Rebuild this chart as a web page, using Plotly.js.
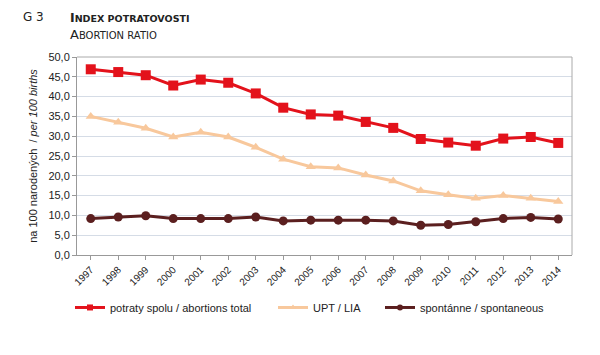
<!DOCTYPE html>
<html><head><meta charset="utf-8">
<script src="https://cdn.plot.ly/plotly-3.0.1.min.js"></script>
<style>html,body{margin:0;padding:0;background:#fff}#c{width:600px;height:355px}</style>
</head><body><div id="c"></div>
<script>
const years = ['1997','1998','1999','2000','2001','2002','2003','2004','2005','2006','2007','2008','2009','2010','2011','2012','2013','2014'];
const total = [46.9,46.2,45.4,42.8,44.3,43.5,40.8,37.2,35.5,35.2,33.6,32.1,29.3,28.4,27.6,29.4,29.8,28.3];
const upt = [35.0,33.5,32.0,29.8,31.0,29.8,27.2,24.2,22.3,22.0,20.2,18.7,16.2,15.2,14.3,15.0,14.3,13.5];
const spont = [9.2,9.6,9.9,9.2,9.2,9.2,9.6,8.6,8.8,8.8,8.8,8.6,7.5,7.7,8.4,9.2,9.5,9.1];
const names = ['potraty spolu / abortions total','UPT / LIA','spontánne / spontaneous'];

const colors = ['#e3121b','#f8c89c','#5b1f1f'];
const symbols = ['square','triangle-up','circle'];
const sizes = [10,9,9];
const series = [total, upt, spont];
const legIds = ['legend','legend2','legend3'];
const legFont = {family:'Liberation Sans, Arial, sans-serif', size:11, color:'#222'};
const traces = [];
series.forEach((s,i)=>{
  traces.push({x:years, y:s, name:names[i], type:'scatter', mode:'lines+markers', showlegend:false,
    line:{color:colors[i], width:3}, marker:{symbol:symbols[i], size:sizes[i], color:colors[i]}});
});
series.forEach((s,i)=>{
  traces.push({x:[null], y:[null], name:names[i], type:'scatter', mode:'lines+markers', showlegend:true,
    line:{color:colors[i], width:3}, marker:{symbol:symbols[i], size:6, color:colors[i]}, legend:legIds[i]});
});
function leg(xpx){
  return {orientation:'h', x:(xpx-77)/495, xanchor:'left', y:-0.265, yanchor:'middle',
    font:legFont, itemwidth:30, bgcolor:'rgba(0,0,0,0)', tracegroupgap:0};
}
const layout = {
  width:600, height:355,
  margin:{l:77, r:28, t:57, b:100},
  paper_bgcolor:'#fff', plot_bgcolor:'#fff',
  separators:', ',
  showlegend:true,
  legend:leg(70), legend2:leg(273), legend3:leg(380),
  xaxis:{type:'category', range:[-0.5,17.5], showgrid:false, showline:true, linecolor:'#999', linewidth:1,
    ticks:'outside', ticklen:4, tickcolor:'#999', tickangle:-45,
    tickfont:{family:'Liberation Sans, Arial, sans-serif', size:10, color:'#222'}, mirror:false, zeroline:false},
  yaxis:{range:[0,50], dtick:5, tickformat:'.1f', showgrid:true, gridcolor:'#d5dce6', gridwidth:1,
    showline:true, linecolor:'#999', linewidth:1, ticks:'outside', ticklen:4, tickcolor:'#999', zeroline:false,
    tickfont:{family:'Liberation Sans, Arial, sans-serif', size:11, color:'#222'},
    title:{text:'na 100 narodených  / <i>per 100 births</i>', standoff:8,
      font:{family:'Liberation Sans, Arial, sans-serif', size:11, color:'#222'}}},
  shapes:[
    {type:'line', xref:'paper', yref:'paper', x0:0, x1:1, y0:1, y1:1, line:{color:'#aaa', width:1}},
    {type:'line', xref:'paper', yref:'paper', x0:1, x1:1, y0:0, y1:1, line:{color:'#aaa', width:1}}
  ],
  annotations:[
    {text:'G 3', xref:'paper', yref:'paper', x:(21-77)/495, y:1+(57-17)/198, xanchor:'left', yanchor:'middle', showarrow:false,
     font:{family:'DejaVu Sans, sans-serif', size:12, color:'#222'}},
    {text:'<b><span style="font-size:12.5px">I</span>NDEX POTRATOVOSTI</b>', xref:'paper', yref:'paper', x:(68-77)/495, y:1+(57-17)/198, xanchor:'left', yanchor:'middle', showarrow:false,
     font:{family:'DejaVu Sans, sans-serif', size:9.5, color:'#222'}},
    {text:'<span style="font-size:13px">A</span>BORTION RATIO', xref:'paper', yref:'paper', x:(68-77)/495, y:1+(57-35)/198, xanchor:'left', yanchor:'middle', showarrow:false,
     font:{family:'DejaVu Sans, sans-serif', size:10, color:'#222'}}
  ]
};
Plotly.newPlot('c', traces, layout, {displayModeBar:false, staticPlot:true});
</script></body></html>
